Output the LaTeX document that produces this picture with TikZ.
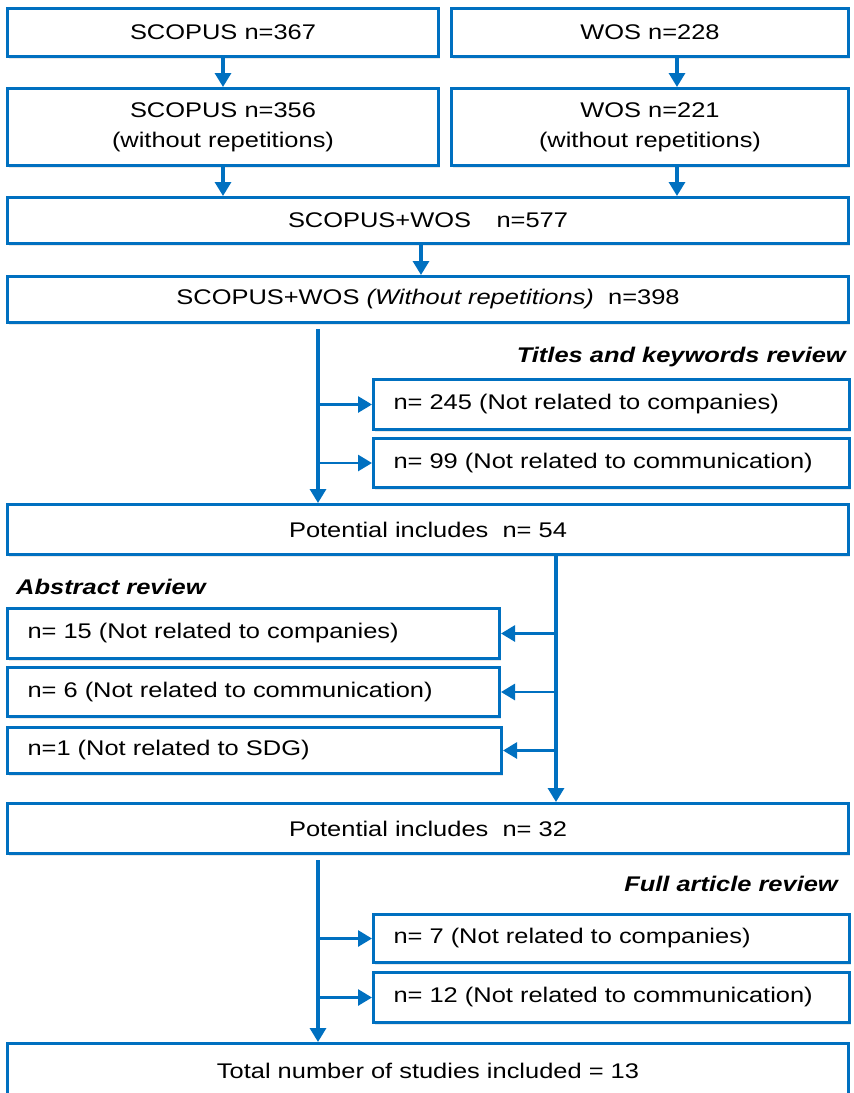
\documentclass[tikz,border=0pt]{standalone}
\usepackage{fontspec}
\setmainfont[FakeStretch=1.2]{Liberation Sans}
\usetikzlibrary{arrows.meta,shadows}
\definecolor{flowblue}{RGB}{0,112,192}

\begin{document}
\begin{tikzpicture}[x=1pt,y=-1pt,
		font=\fontsize{21.2}{30}\selectfont,
		box/.style={draw=flowblue,line width=3pt,fill=white,anchor=north west,inner sep=0pt,align=center,
			drop shadow={shadow xshift=1.5pt,shadow yshift=-2pt,opacity=0.18}},
		sidebox/.style={box,align=left,inner xsep=20pt,text width=#1},
		review/.style={font=\fontsize{21.2}{30}\selectfont\bfseries\itshape,inner sep=0pt},
		arr/.style={flowblue,line width=3.2pt,-{Triangle[length=14pt,width=16pt]}},
		twig/.style={flowblue,line width=2.8pt,-{Triangle[length=14pt,width=16pt]}}]
		\useasboundingbox (0,0) rectangle (854,1093);
		\clip (0,0) rectangle (854,1093);
		
		% Datenbanken
		\node[box,minimum width=431pt,minimum height=48pt] (scopus) at (6,7) {SCOPUS n=367};
		\node[box,minimum width=397pt,minimum height=48pt] (wos) at (450,7) {WOS n=228};
		\node[box,minimum width=431pt,minimum height=77pt] (scopusrep) at (6,87) {SCOPUS n=356\\(without repetitions)};
		\node[box,minimum width=397pt,minimum height=77pt] (wosrep) at (450,87) {WOS n=221\\(without repetitions)};
		
		\node[box,minimum width=841pt,minimum height=46pt] (joined) at (6,196) {SCOPUS+WOS\hspace{1.2em}n=577};
		\node[box,minimum width=841pt,minimum height=46pt] (merged) at (6,275) {SCOPUS+WOS \textit{(Without repetitions)}\ \ n=398};
		
		% Titles and keywords
		\node[review,anchor=base east] (titlelabel) at (846,362) {Titles and keywords review};
		\node[sidebox=436pt,minimum height=50pt] (titleA) at (372,378) {n= 245 (Not related to companies)};
		\node[sidebox=436pt,minimum height=49pt] (titleB) at (372,437) {n= 99 (Not related to communication)};
		\node[box,minimum width=841pt,minimum height=50pt] (potA) at (6,503) {Potential includes\ \ n= 54};
		
		% Abstract
		\node[review,anchor=base west] (abstractlabel) at (16,594) {Abstract review};
		\node[sidebox=452pt,minimum height=50pt] (absA) at (6,607) {n= 15 (Not related to companies)};
		\node[sidebox=452pt,minimum height=49pt] (absB) at (6,666) {n= 6 (Not related to communication)};
		\node[sidebox=454pt,minimum height=46pt] (absC) at (6,726) {n=1 (Not related to SDG)};
		\node[box,minimum width=841pt,minimum height=50pt] (potB) at (6,802) {Potential includes\ \ n= 32};
		
		% Full article
		\node[review,anchor=base east] (fulllabel) at (838,891) {Full article review};
		\node[sidebox=436pt,minimum height=48pt] (fullA) at (372,913) {n= 7 (Not related to companies)};
		\node[sidebox=436pt,minimum height=50pt] (fullB) at (372,971) {n= 12 (Not related to communication)};
		\node[box,minimum width=841pt,minimum height=54pt] (total) at (6,1042) {Total number of studies included = 13};
		
		% Pfeile
		\coordinate (wosline) at (677,0);
		\coordinate (midline) at (421,0);
		\coordinate (trunkleft) at (318,0);
		\coordinate (trunkright) at (556,0);
		
		\draw[arr] (scopus.south) -- (scopusrep.north);
		\draw[arr] (wos.south -| wosline) -- (wosrep.north -| wosline);
		\draw[arr] (scopusrep.south) -- (scopusrep.south |- joined.north);
		\draw[arr] (wosrep.south -| wosline) -- (joined.north -| wosline);
		\draw[arr] (joined.south -| midline) -- (merged.north -| midline);
		
		\draw[arr,shorten <=5pt] (merged.south -| trunkleft) -- (potA.north -| trunkleft);
		\draw[twig] (titleA.west -| trunkleft) -- (titleA.west);
		\draw[twig] (titleB.west -| trunkleft) -- (titleB.west);
		
		\draw[arr] (potA.south -| trunkright) -- (potB.north -| trunkright);
		\draw[twig] (absA.east -| trunkright) -- (absA.east);
		\draw[twig] (absB.east -| trunkright) -- (absB.east);
		\draw[twig] (absC.east -| trunkright) -- (absC.east);
		
		\draw[arr,shorten <=5pt] (potB.south -| trunkleft) -- (total.north -| trunkleft);
		\draw[twig] (fullA.west -| trunkleft) -- (fullA.west);
		\draw[twig] (fullB.west -| trunkleft) -- (fullB.west);
		
	\end{tikzpicture}
\end{document}
